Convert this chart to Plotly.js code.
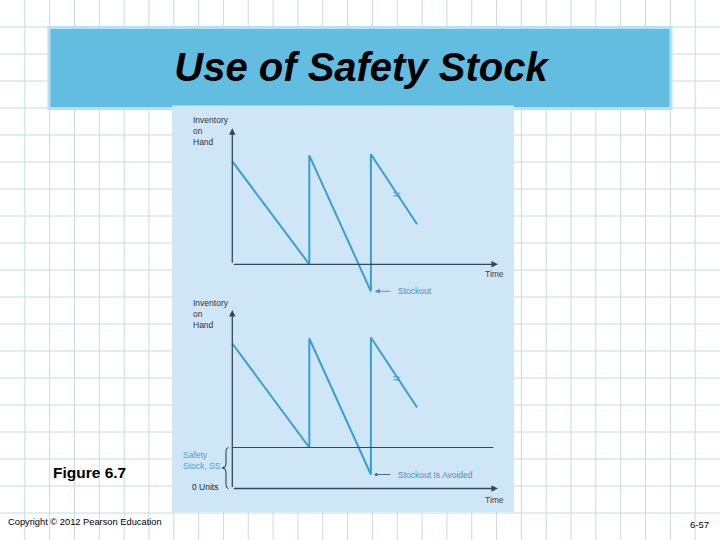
<!DOCTYPE html>
<html><head><meta charset="utf-8">
<script src="https://cdn.plot.ly/plotly-3.0.1.min.js"></script>
<style>html,body{margin:0;padding:0;background:#fff}#chart{width:720px;height:540px}</style>
</head><body><div id="chart"></div><script>
// ---- data (arbitrary units) ----
const timePoints = [0, 10, 10, 18, 18, 24];
const inventoryNoSS = [103, 0, 109, -27, 110, 40];
const inventoryWithSS = [145, 41, 150, 14, 151, 81];
const safetyStock = 41;
const timeAxisEnd = 34.5;
const safetyLineEnd = 33.9;
const invAxisTopTop = 136;
const invAxisTopBottom = 178.5;
const breakTime = 21.4;
const breakInvTop = 70;
const breakInvBottom = 111;

const titleText = 'Use of Safety Stock';
const invLabel = 'Inventory<br>on<br>Hand';
const timeLabel = 'Time';
const stockoutLabel = 'Stockout';
const avoidedLabel = 'Stockout Is Avoided';
const ssLabel = 'Safety<br>Stock, SS -';
const zeroLabel = '0 Units';
const figureLabel = 'Figure 6.7';
const copyrightLabel = 'Copyright \u00a9 2012 Pearson Education';
const pageLabel = '6-57';

// ---- styling ----
const W = 720, H = 540;
const px = x => x / W;
const py = y => 1 - y / H;
const lineColor = '#389fd3';
const axisColor = '#2e4a5c';
const panelColor = '#cfe6f7';
const blueText = '#4b9fd4';
const font = 'Liberation Sans, Arial, sans-serif';

const xRange = [-7.831, 36.584];
const xDomain = [px(172), px(514)];

const traces = [
  {x: timePoints, y: inventoryNoSS, xaxis: 'x', yaxis: 'y', mode: 'lines',
   line: {color: lineColor, width: 2}, hoverinfo: 'skip'},
  {x: timePoints, y: inventoryWithSS, xaxis: 'x2', yaxis: 'y2', mode: 'lines',
   line: {color: lineColor, width: 2}, hoverinfo: 'skip'}
];

const shapes = [];
for (let k = 1; k < 29; k++) shapes.push({type: 'line', xref: 'paper', yref: 'paper', x0: k / 29, x1: k / 29, y0: 0, y1: 1, line: {color: '#c6dce6', width: 1}, layer: 'below'});
for (let k = 1; k < 20; k++) shapes.push({type: 'line', xref: 'paper', yref: 'paper', x0: 0, x1: 1, y0: k / 20, y1: k / 20, line: {color: '#c6dce6', width: 1}, layer: 'below'});
shapes.push({type: 'rect', xref: 'paper', yref: 'paper', x0: px(49), x1: px(671), y0: py(108.5), y1: py(27.5), fillcolor: '#62bde1', line: {color: '#b4e1f3', width: 3}, layer: 'below'});
shapes.push({type: 'rect', xref: 'paper', yref: 'paper', x0: px(172), x1: px(514), y0: py(512), y1: py(105.5), fillcolor: panelColor, line: {width: 0}, layer: 'below'});
// safety stock level line
shapes.push({type: 'line', xref: 'x2', yref: 'y2', x0: 0, x1: safetyLineEnd, y0: safetyStock, y1: safetyStock, line: {color: axisColor, width: 1.2}});
// brace
const bR = -0.5, bM = -0.82, bT = -1.3, mid = safetyStock / 2;
shapes.push({type: 'path', xref: 'x2', yref: 'y2', line: {color: '#333', width: 1},
  path: `M ${bR},${safetyStock} Q ${bM},${safetyStock} ${bM},${safetyStock - 4} L ${bM},${mid + 4} Q ${bM},${mid} ${bT},${mid} Q ${bM},${mid} ${bM},${mid - 4} L ${bM},4 Q ${bM},0 ${bR},0`});

function arrow(xr, yr, x, y, ax, ay, head, color, width, size) {
  return {xref: xr, yref: yr, axref: xr, ayref: yr, x: x, y: y, ax: ax, ay: ay, text: '',
    showarrow: true, arrowhead: head, arrowsize: size || 1, arrowwidth: width, arrowcolor: color, standoff: 0, startstandoff: 0};
}
function label(xr, yr, x, y, text, size, color, xanchor, extra) {
  return Object.assign({xref: xr, yref: yr, x: x, y: y, text: text, showarrow: false,
    font: {family: font, size: size, color: color}, xanchor: xanchor, yanchor: 'middle', align: xanchor === 'right' ? 'right' : 'left'}, extra || {});
}

const annotations = [
  // axes
  arrow('x', 'y', timeAxisEnd, 0, 0, 0, 2, axisColor, 1.3),
  arrow('x', 'y', 0, invAxisTopTop, 0, 0, 2, axisColor, 1.3),
  arrow('x2', 'y2', timeAxisEnd, 0, 0, 0, 2, axisColor, 1.3),
  arrow('x2', 'y2', 0, invAxisTopBottom, 0, 0, 2, axisColor, 1.3),
  // callouts
  arrow('x', 'y', 18.5, -27, 20.7, -27, 2, '#5a8fba', 1),
  arrow('x2', 'y2', 18.7, 14, 20.7, 14, 6, '#3b6f96', 1, 0.8),
  label('x', 'y', 21.2, -27, stockoutLabel, 8.5, '#4f8cbc', 'left'),
  label('x2', 'y2', 21.3, 14, avoidedLabel, 8.5, '#4f8cbc', 'left'),
  // break marks
  label('x', 'y', breakTime, breakInvTop, '\u2248', 14, lineColor, 'center'),
  label('x2', 'y2', breakTime, breakInvBottom, '\u2248', 14, lineColor, 'center'),
  // axis labels
  label('x', 'y', -5.3, 133, invLabel, 8.5, '#333', 'left'),
  label('x2', 'y2', -5.3, 174.5, invLabel, 8.5, '#333', 'left'),
  label('x', 'y', 34.1, -9.8, timeLabel, 8.5, '#444', 'center'),
  label('x2', 'y2', 34.1, -11.5, timeLabel, 8.5, '#444', 'center'),
  label('x2', 'y2', -6.6, 28, ssLabel, 8.5, blueText, 'left'),
  label('x2', 'y2', -1.55, 1.5, zeroLabel, 8.5, '#222', 'right'),
  // page texts
  label('paper', 'paper', px(89), py(472), '<b>' + figureLabel + '</b>', 15.5, '#000', 'center'),
  label('paper', 'paper', px(6), py(522), copyrightLabel, 9.3, '#000', 'left'),
  label('paper', 'paper', px(711), py(524), pageLabel, 9.5, '#000', 'right')
];

const hidden = {visible: false, fixedrange: true};
const layout = {
  width: W, height: H, margin: {l: 0, r: 0, t: 0, b: 0},
  paper_bgcolor: '#ffffff', plot_bgcolor: 'rgba(0,0,0,0)', showlegend: false,
  hovermode: false,
  title: {text: '<b><i>' + titleText + '</i></b>', x: px(361), xanchor: 'center', xref: 'paper',
    y: py(67), yanchor: 'middle', yref: 'paper', font: {family: font, size: 40, color: '#000'}},
  xaxis: Object.assign({domain: xDomain, range: xRange, anchor: 'y'}, hidden),
  yaxis: Object.assign({domain: [py(295), py(105)], range: [-30.7, 159.3], anchor: 'x'}, hidden),
  xaxis2: Object.assign({domain: xDomain, range: xRange, anchor: 'y2'}, hidden),
  yaxis2: Object.assign({domain: [py(512), py(300)], range: [-23.5, 188.5], anchor: 'x2'}, hidden),
  shapes: shapes, annotations: annotations
};
Plotly.newPlot('chart', traces, layout, {staticPlot: true, displayModeBar: false});
</script></body></html>
